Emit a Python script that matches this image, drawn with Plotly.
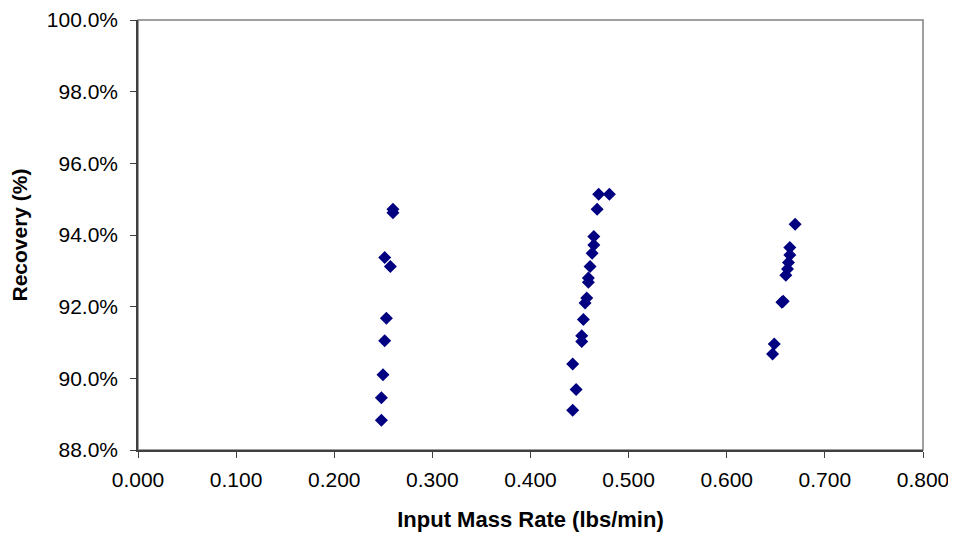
import plotly.graph_objects as go

# input mass rate (lbs/min) and recovery (%)
rate_low = [0.2598, 0.2598, 0.2514, 0.2572, 0.2531, 0.2514, 0.2497, 0.2480, 0.2480]
rec_low = [94.72, 94.62, 93.37, 93.12, 91.68, 91.05, 90.10, 89.46, 88.83]

rate_mid = [0.4695, 0.4804, 0.4679, 0.4645, 0.4645, 0.4628, 0.4607, 0.4590, 0.4590,
            0.4573, 0.4556, 0.4539, 0.4522, 0.4522, 0.4430, 0.4465, 0.4430]
rec_mid = [95.14, 95.14, 94.72, 93.96, 93.72, 93.49, 93.12, 92.80, 92.68,
           92.24, 92.10, 91.64, 91.19, 91.03, 90.40, 89.69, 89.11]

rate_high = [0.6697, 0.6643, 0.6643, 0.6629, 0.6619, 0.6602, 0.6562, 0.6575, 0.6484, 0.6467]
rec_high = [94.30, 93.65, 93.44, 93.23, 93.05, 92.88, 92.12, 92.15, 90.96, 90.68]

x = rate_low + rate_mid + rate_high
y = [v / 100 for v in rec_low + rec_mid + rec_high]

font = "Liberation Sans, Arial, sans-serif"

fig = go.Figure()
fig.add_trace(go.Scatter(
    x=x, y=y, mode="markers",
    marker=dict(symbol="diamond", size=10, color="#000080", line=dict(width=0)),
))

fig.add_shape(type="rect", xref="paper", yref="paper", x0=0, y0=0, x1=1, y1=1,
              line=dict(color="#808080", width=1.5), layer="below")

# the page body adds an 8px offset, so the figure is that much smaller
fig.update_layout(
    width=948, height=529,
    margin=dict(l=130, r=33, t=12, b=87),
    paper_bgcolor="white", plot_bgcolor="white",
    showlegend=False,
    font=dict(family=font, size=21, color="black"),
)
fig.update_xaxes(
    range=[0, 0.8], dtick=0.1, tickformat=".3f", automargin=False,
    ticklabeloverflow="allow", ticklabelstandoff=4,
    showgrid=False, zeroline=False,
    showline=True, linecolor="#404040", linewidth=1.5,
    ticks="outside", ticklen=6, tickcolor="#404040",
    tickfont=dict(size=21),
    title=dict(text="<b>Input Mass Rate (lbs/min)</b>", font=dict(size=22), standoff=22),
)
fig.update_yaxes(
    range=[0.88, 1.0], dtick=0.02, tickformat=".1%", automargin=False,
    ticklabeloverflow="allow", ticklabelstandoff=8,
    showgrid=False, zeroline=False,
    showline=True, linecolor="#404040", linewidth=1.5,
    ticks="outside", ticklen=6, tickcolor="#404040",
    tickfont=dict(size=21),
    title=dict(text="<b>Recovery (%)</b>", font=dict(size=21), standoff=16),
)

fig.write_html("out.html")
